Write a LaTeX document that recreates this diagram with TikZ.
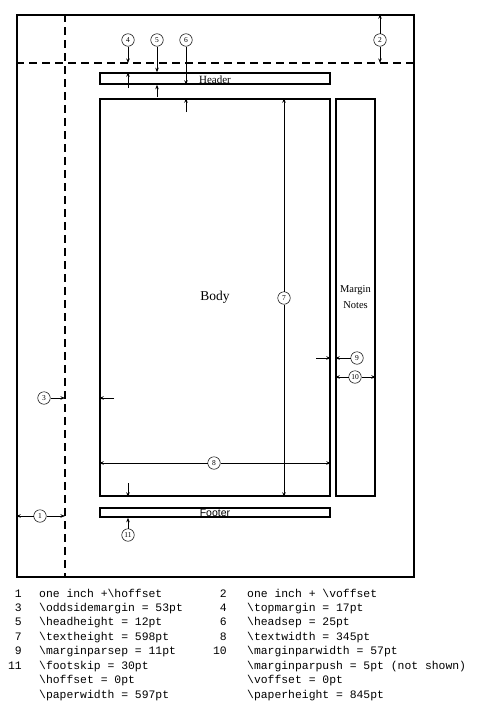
\documentclass[tikz,border=0pt]{standalone}
\usepackage{fontspec}
\setmainfont{Liberation Serif}
\setsansfont{Liberation Sans}
\setmonofont{Liberation Mono}
\usetikzlibrary{arrows.meta}
\newcommand\bsl{\textbackslash}
\begin{document}
\begin{tikzpicture}[x=1pt,y=-1pt,
  thickbox/.style={draw, line width=1.6pt, inner sep=0pt, rectangle},
  num/.style={draw, circle, line width=0.5pt, inner sep=0pt, minimum size=12.5pt, font=\fontsize{7.5}{7.5}\selectfont},
  arr/.style={-{Stealth[length=4.5pt,width=3.5pt]}, line width=0.7pt},
  dashline/.style={line width=1.6pt, dash pattern=on 8pt off 5pt},
  lnum/.style={font=\fontsize{11.4}{11.4}\selectfont\ttfamily, anchor=base east, inner sep=0pt},
  ltxt/.style={font=\fontsize{11.4}{11.4}\selectfont\ttfamily, anchor=base west, inner sep=0pt}]
\useasboundingbox (0,0) rectangle (484,712);
% boxes
\node[thickbox, minimum width=397pt, minimum height=562pt] (page) at (215.5,296) {};
\node[thickbox, minimum width=230pt, minimum height=11pt, text depth=0pt, font=\fontsize{11}{11}\selectfont] (header) at (215,78.5) {\raisebox{-1.5pt}{Header}};
\node[thickbox, minimum width=230pt, minimum height=397pt, font=\fontsize{13.5}{13.5}\selectfont] (body) at (215,297.5) {Body};
\node[thickbox, minimum width=39pt, minimum height=397pt, align=center, font=\fontsize{10.5}{16}\selectfont] (margin) at (355.5,297.5) {Margin\\Notes};
\node[thickbox, minimum width=230pt, minimum height=9pt, text depth=0pt, font=\fontsize{10.5}{10.5}\selectfont\sffamily] (footer) at (215,512.5) {\raisebox{-1.5pt}{Footer}};
% dashed reference lines
\coordinate (vd) at (65,0);
\coordinate (hd) at (0,63);
\draw[dashline] (vd |- page.north) -- (vd |- page.south);
\draw[dashline] (hd -| page.west) -- (hd -| page.east);
% numbered circles
\node[num] (c1) at (40,516) {1};
\node[num] (c2) at (380,40) {2};
\node[num] (c3) at (44,398) {3};
\node[num] (c4) at (128,40) {4};
\node[num] (c5) at (157,40) {5};
\node[num] (c6) at (186,40) {6};
\node[num] (c7) at (284,298) {7};
\node[num] (c8) at (214,463) {8};
\node[num] (c9) at (357,358) {9};
\node[num] (c10) at (355,377) {10};
\node[num] (c11) at (128,535) {11};
% free-end coordinates
\coordinate (a3) at (114,398);
\coordinate (a4) at (128,88);
\coordinate (a5) at (157,97);
\coordinate (a6) at (186,112);
\coordinate (a9) at (316,358);
\coordinate (a11) at (128,483);
% arrows
\draw[arr] (c1) -- (c1 -| page.west);
\draw[arr] (c1) -- (c1 -| vd);
\draw[arr] (c2) -- (c2 |- page.north);
\draw[arr] (c2) -- (c2 |- hd);
\draw[arr] (c3) -- (c3 -| vd);
\draw[arr] (a3) -- (a3 -| body.west);
\draw[arr] (c4) -- (c4 |- hd);
\draw[arr] (a4) -- (a4 |- header.north);
\draw[arr] (c5) -- (c5 |- header.north);
\draw[arr] (a5) -- (a5 |- header.south);
\draw[arr] (c6) -- (c6 |- header.south);
\draw[arr] (a6) -- (a6 |- body.north);
\draw[arr] (c7) -- (c7 |- body.north);
\draw[arr] (c7) -- (c7 |- body.south);
\draw[arr] (c8) -- (c8 -| body.west);
\draw[arr] (c8) -- (c8 -| body.east);
\draw[arr] (c9) -- (c9 -| margin.west);
\draw[arr] (a9) -- (a9 -| body.east);
\draw[arr] (c10) -- (c10 -| margin.west);
\draw[arr] (c10) -- (c10 -| margin.east);
\draw[arr] (c11) -- (c11 |- footer.south);
\draw[arr] (a11) -- (a11 |- body.south);
% legend
\node[lnum] (n1) at (22,597) {1};
\node[ltxt] (t1) at (39,597) {one inch +\bsl hoffset};
\node[lnum] (n2) at (227,597) {2};
\node[ltxt] (t2) at (247,597) {one inch + \bsl voffset};
\node[lnum] (n3) at (22,611.4) {3};
\node[ltxt] (t3) at (39,611.4) {\bsl oddsidemargin = 53pt};
\node[lnum] (n4) at (227,611.4) {4};
\node[ltxt] (t4) at (247,611.4) {\bsl topmargin = 17pt};
\node[lnum] (n5) at (22,625.9) {5};
\node[ltxt] (t5) at (39,625.9) {\bsl headheight = 12pt};
\node[lnum] (n6) at (227,625.9) {6};
\node[ltxt] (t6) at (247,625.9) {\bsl headsep = 25pt};
\node[lnum] (n7) at (22,640.3) {7};
\node[ltxt] (t7) at (39,640.3) {\bsl textheight = 598pt};
\node[lnum] (n8) at (227,640.3) {8};
\node[ltxt] (t8) at (247,640.3) {\bsl textwidth = 345pt};
\node[lnum] (n9) at (22,654.7) {9};
\node[ltxt] (t9) at (39,654.7) {\bsl marginparsep = 11pt};
\node[lnum] (n10) at (227,654.7) {10};
\node[ltxt] (t10) at (247,654.7) {\bsl marginparwidth = 57pt};
\node[lnum] (n11) at (22,669.1) {11};
\node[ltxt] (t11) at (39,669.1) {\bsl footskip = 30pt};
\node[ltxt] (t12) at (247,669.1) {\bsl marginparpush = 5pt (not shown)};
\node[ltxt] (t13) at (39,683.6) {\bsl hoffset = 0pt};
\node[ltxt] (t14) at (247,683.6) {\bsl voffset = 0pt};
\node[ltxt] (t15) at (39,698) {\bsl paperwidth = 597pt};
\node[ltxt] (t16) at (247,698) {\bsl paperheight = 845pt};
\end{tikzpicture}
\end{document}
